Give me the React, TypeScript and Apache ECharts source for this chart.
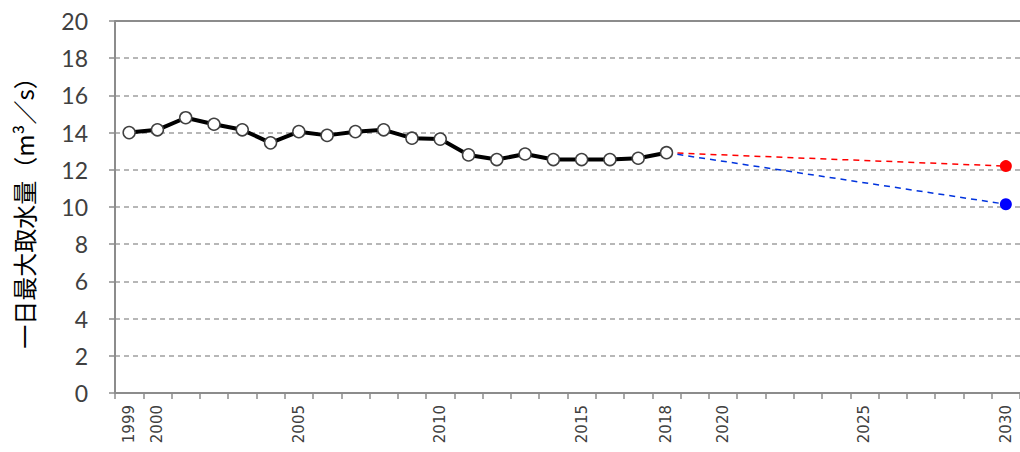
import React, { useEffect, useRef } from "react";
import * as echarts from "echarts";

const years: string[] = [];
for (let y = 1999; y <= 2030; y++) years.push(String(y));

const actual = [
  14.0, 14.15, 14.8, 14.45, 14.15, 13.45, 14.05, 13.85, 14.05, 14.15,
  13.7, 13.65, 12.8, 12.55, 12.85, 12.55, 12.55, 12.55, 12.62, 12.92,
];
const baseYear = "2018";
const baseValue = 12.92;
const targetYear = "2030";
const forecastHigh = 12.2;
const forecastLow = 10.15;
const shownLabels = ["1999", "2000", "2005", "2010", "2015", "2018", "2020", "2025", "2030"];
const yTicks = { min: 0, max: 20, interval: 2 };

function forecastSeries(value: number) {
  return years.map((y) => {
    if (y === baseYear) return { value: baseValue, symbol: "none" };
    if (y === targetYear) return value;
    return null;
  });
}

export default function App() {
  const ref = useRef<HTMLDivElement>(null);
  useEffect(() => {
    if (!ref.current) return;
    const chart = echarts.init(ref.current, null, { renderer: "svg" });
    const actualData = years.map((_, i) => (i < actual.length ? actual[i] : null));
    chart.setOption({
      animation: false,
      backgroundColor: "#ffffff",
      grid: { left: 115, top: 21, width: 907, height: 372 },
      xAxis: {
        type: "category",
        data: years,
        boundaryGap: true,
        axisLine: { lineStyle: { color: "#8c8c8c", width: 2 } },
        axisTick: { show: true, interval: 0, length: 6, lineStyle: { color: "#8c8c8c", width: 1.5 } },
        axisLabel: {
          rotate: 90,
          interval: (i: number, v: string) => shownLabels.includes(v),
          fontFamily: "DejaVu Sans",
          fontSize: 15,
          color: "#404040",
          margin: 12,
        },
        splitLine: { show: false },
      },
      yAxis: {
        type: "value",
        min: yTicks.min,
        max: yTicks.max,
        interval: yTicks.interval,
        name: "一日最大取水量（m³／s）",
        nameLocation: "middle",
        nameRotate: 90,
        nameGap: 80,
        nameTextStyle: { fontFamily: "Noto Sans CJK JP", fontSize: 24, color: "#000000" },
        axisLine: { show: true, lineStyle: { color: "#8c8c8c", width: 2 } },
        axisTick: { show: true, length: 6, lineStyle: { color: "#8c8c8c", width: 1.5 } },
        axisLabel: { fontFamily: "Lato", fontSize: 23, color: "#404040", margin: 27 },
        splitLine: { show: true, lineStyle: { type: [5, 4], color: "#a0a0a0", width: 1.5 } },
      },
      series: [
        {
          type: "line",
          data: actualData,
          symbol: "circle",
          symbolSize: 12,
          itemStyle: { color: "#ffffff", borderColor: "#404040", borderWidth: 1.5 },
          lineStyle: { color: "#000000", width: 4 },
          z: 5,
          markLine: {
            silent: true,
            symbol: "none",
            label: { show: false },
            lineStyle: { type: "solid", color: "#8c8c8c", width: 2 },
            data: [{ yAxis: 20 }],
          },
        },
        {
          type: "line",
          data: forecastSeries(forecastHigh),
          connectNulls: true,
          symbol: "circle",
          symbolSize: 12,
          itemStyle: { color: "#ff0000" },
          lineStyle: { color: "#ff0000", width: 1.5, type: [6, 5] },
          z: 3,
        },
        {
          type: "line",
          data: forecastSeries(forecastLow),
          connectNulls: true,
          symbol: "circle",
          symbolSize: 12,
          itemStyle: { color: "#0000ff" },
          lineStyle: { color: "#0033dd", width: 1.5, type: [6, 5] },
          z: 3,
        },
      ],
    });
    return () => chart.dispose();
  }, []);
  return <div ref={ref} style={{ width: 1020, height: 452, position: "absolute", left: 0, top: 0 }} />;
}
